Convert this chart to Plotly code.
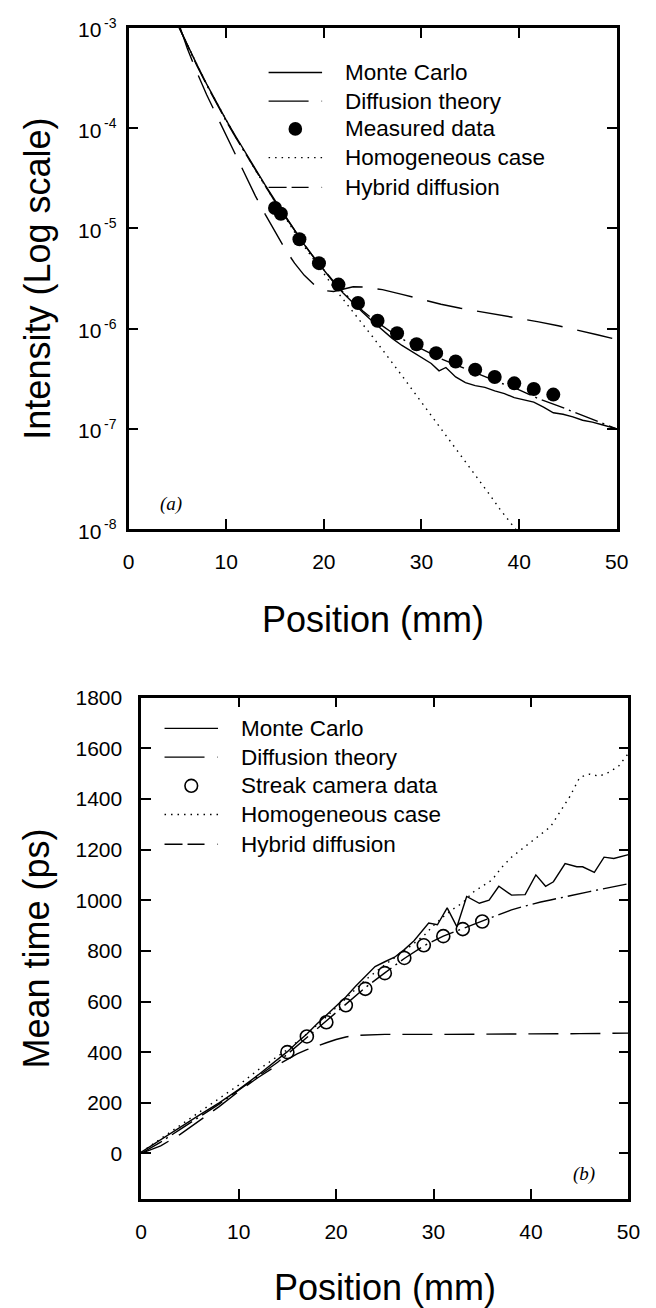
import math
import plotly.graph_objects as go

W, H = 656, 1308


def px(x):
    """Horizontal pixel position -> paper fraction."""
    return x / W


def py(y):
    """Vertical pixel position (measured from the top) -> paper fraction."""
    return 1 - y / H


FONT = "Liberation Sans, Arial, Helvetica, sans-serif"
SERIF = "Liberation Serif, Times New Roman, serif"

# ---------------- panel (a): intensity versus position ----------------
pos_mc_a = [5.2, 6, 7, 8, 9, 10, 11, 12, 13, 14, 15, 16, 17, 18, 19, 20, 21, 22, 23, 24,
            25, 26, 27, 28, 29, 30, 31, 31.8, 32.5, 33.5, 34.5, 35.5, 36.5, 37.5, 38.5,
            39.5, 40.5, 41.5, 42.5, 43.5, 44.5, 45.5, 46.5, 47.5, 48.5, 50]
int_mc_a = [1.0e-3, 6.8e-4, 4.3e-4, 2.75e-4, 1.8e-4, 1.2e-4, 8.2e-5, 5.6e-5, 3.9e-5, 2.7e-5,
            1.9e-5, 1.35e-5, 9.6e-6, 6.9e-6, 5.1e-6, 3.8e-6, 2.9e-6, 2.25e-6, 1.8e-6, 1.45e-6,
            1.18e-6, 9.7e-7, 8.0e-7, 6.8e-7, 5.9e-7, 5.2e-7, 4.5e-7, 3.8e-7, 4.1e-7, 3.3e-7,
            2.9e-7, 2.7e-7, 2.6e-7, 2.4e-7, 2.25e-7, 2.05e-7, 1.95e-7, 1.85e-7, 1.65e-7,
            1.45e-7, 1.4e-7, 1.32e-7, 1.22e-7, 1.17e-7, 1.1e-7, 1.0e-7]

pos_dt_a = [5.2, 6, 7, 8, 9, 10, 11, 12, 13, 14, 15, 16, 17, 18, 19, 20, 21, 22, 23, 24,
            25, 26, 27, 28, 29, 30, 32, 34, 36, 38, 40, 42, 44, 46, 48, 50]
int_dt_a = [1.0e-3, 6.7e-4, 4.2e-4, 2.7e-4, 1.75e-4, 1.17e-4, 8.0e-5, 5.5e-5, 3.8e-5, 2.65e-5,
            1.85e-5, 1.32e-5, 9.5e-6, 6.9e-6, 5.1e-6, 3.85e-6, 2.95e-6, 2.3e-6, 1.85e-6, 1.5e-6,
            1.25e-6, 1.06e-6, 9.1e-7, 7.9e-7, 7.0e-7, 6.3e-7, 5.0e-7, 4.15e-7, 3.45e-7, 2.9e-7,
            2.45e-7, 2.0e-7, 1.7e-7, 1.42e-7, 1.2e-7, 1.0e-7]

pos_meas_a = [15, 15.6, 17.5, 19.5, 21.5, 23.5, 25.5, 27.5, 29.5, 31.5, 33.5, 35.5, 37.5,
              39.5, 41.5, 43.5]
int_meas_a = [1.6e-5, 1.4e-5, 7.8e-6, 4.5e-6, 2.75e-6, 1.8e-6, 1.2e-6, 9.0e-7, 7.0e-7,
              5.7e-7, 4.7e-7, 3.9e-7, 3.3e-7, 2.85e-7, 2.5e-7, 2.2e-7]

pos_hom_a = [5.2, 6, 7, 8, 9, 10, 11, 12, 13, 14, 15, 16, 17, 18, 19, 20, 21, 22, 23, 24,
             25, 26, 27, 28, 29, 30, 31, 32, 33, 34, 35, 36, 37, 38, 39, 40]
int_hom_a = [1.0e-3, 6.8e-4, 4.3e-4, 2.75e-4, 1.8e-4, 1.2e-4, 8.1e-5, 5.5e-5, 3.8e-5, 2.65e-5,
             1.85e-5, 1.3e-5, 9.2e-6, 6.6e-6, 4.8e-6, 3.5e-6, 2.6e-6, 1.95e-6, 1.45e-6, 1.1e-6,
             8.3e-7, 6.2e-7, 4.6e-7, 3.4e-7, 2.5e-7, 1.85e-7, 1.37e-7, 1.02e-7, 7.5e-8, 5.5e-8,
             4.1e-8, 3.0e-8, 2.2e-8, 1.6e-8, 1.2e-8, 9.0e-9]

pos_hyb_a = [5.3, 6, 7, 8, 9, 10, 11, 12, 13, 14, 15, 16, 17, 18, 19, 20, 21, 22, 23, 24,
             26, 28, 30, 32, 34, 36, 38, 40, 42, 44, 46, 48, 50]
int_hyb_a = [1.0e-3, 6.3e-4, 3.6e-4, 2.15e-4, 1.35e-4, 8.5e-5, 5.3e-5, 3.3e-5, 2.1e-5, 1.38e-5,
             9.2e-6, 6.3e-6, 4.5e-6, 3.4e-6, 2.75e-6, 2.4e-6, 2.35e-6, 2.5e-6, 2.62e-6, 2.6e-6,
             2.45e-6, 2.2e-6, 1.95e-6, 1.75e-6, 1.6e-6, 1.48e-6, 1.38e-6, 1.28e-6, 1.17e-6,
             1.07e-6, 9.7e-7, 8.7e-7, 7.8e-7]

# decade ticks of the log axis: mantissa "10" with the exponent set as a superscript
ticks_a = [1e-8, 1e-7, 1e-6, 1e-5, 1e-4, 1e-3]
tick_base_a = ["10", "10", "10", "10", "10", "10"]
tick_exp_a = ["-8", "-7", "-6", "-5", "-4", "-3"]

# ---------------- panel (b): mean time versus position ----------------
pos_mc_b = [0, 2, 4, 6, 8, 10, 12, 14, 15, 16, 17, 18, 19, 20, 21, 22, 23, 24, 25, 26, 27,
            28, 29.5, 30.4, 31.4, 32.4, 33.4, 34.7, 35.7, 36.7, 38.0, 39.4, 40.5, 41.5, 42.3,
            43.5, 44.7, 45.3, 46.5, 47.5, 48.5, 50]
time_mc_b = [5, 55, 105, 152, 200, 252, 310, 370, 402, 438, 472, 510, 545, 580, 618, 660,
             700, 738, 757, 775, 805, 840, 910, 903, 970, 895, 1015, 988, 1000, 1055, 1020,
             1022, 1100, 1055, 1073, 1145, 1132, 1132, 1110, 1170, 1165, 1180]

pos_dt_b = [0, 2, 4, 6, 8, 10, 12, 14, 15, 17, 19, 21, 23, 25, 27, 29, 31, 33, 35, 36, 37,
            38, 39, 40, 41, 42, 43, 44, 45, 46, 47, 48, 49, 50]
time_dt_b = [0, 45, 95, 145, 195, 250, 305, 360, 392, 458, 525, 592, 655, 713, 770, 820, 858,
             888, 917, 933, 948, 962, 973, 984, 993, 1001, 1010, 1018, 1026, 1034, 1042, 1050,
             1057, 1065]

pos_streak_b = [15, 17, 19, 21, 23, 25, 27, 29, 31, 33, 35]
time_streak_b = [400, 462, 518, 585, 650, 712, 772, 822, 858, 886, 916]

pos_hom_b = [0, 2, 4, 6, 8, 10, 12, 14, 15, 17, 19, 21, 23, 25, 27, 29, 30, 31, 32, 33, 34,
             35, 36, 37, 38, 39, 40, 41, 42, 43, 44, 45, 46, 47, 48, 49, 50]
time_hom_b = [5, 58, 112, 165, 215, 270, 330, 385, 410, 472, 540, 612, 685, 745, 800, 860,
              900, 935, 965, 990, 1030, 1055, 1080, 1130, 1170, 1200, 1230, 1260, 1290, 1350,
              1410, 1485, 1498, 1490, 1505, 1530, 1580]

pos_hyb_b = [0, 2, 4, 6, 8, 10, 12, 14, 15, 16, 17, 18, 19, 20, 21, 22, 23, 25, 30, 35, 40,
             45, 50]
time_hyb_b = [0, 30, 75, 130, 185, 245, 300, 350, 372, 393, 410, 425, 437, 450, 460, 466, 468,
              470, 470, 470, 472, 473, 475]

ticks_b = [0, 200, 400, 600, 800, 1000, 1200, 1400, 1600, 1800]
ticks_x = [0, 10, 20, 30, 40, 50]

legend_a = ["Monte Carlo", "Diffusion theory", "Measured data", "Homogeneous case",
            "Hybrid diffusion"]
legend_b = ["Monte Carlo", "Diffusion theory", "Streak camera data", "Homogeneous case",
            "Hybrid diffusion"]

# line styles
LW = 1.4
DASH_DT = "24px,5px,2px,5px"
DASH_HOM = "1.5px,5px"
DASH_HYB_A = "36px,15px"
DASH_HYB_B = "30px,12px"

fig = go.Figure()


def line(x, y, dash, xa, ya):
    fig.add_trace(go.Scatter(x=x, y=y, mode="lines", xaxis=xa, yaxis=ya,
                             line=dict(color="black", width=LW, dash=dash),
                             showlegend=False, hoverinfo="skip"))


# panel (a)
line(pos_hom_a, int_hom_a, DASH_HOM, "x", "y")
line(pos_hyb_a, int_hyb_a, DASH_HYB_A, "x", "y")
line(pos_dt_a, int_dt_a, DASH_DT, "x", "y")
line(pos_mc_a, int_mc_a, "solid", "x", "y")
fig.add_trace(go.Scatter(x=pos_meas_a, y=int_meas_a, mode="markers", xaxis="x", yaxis="y",
                         marker=dict(symbol="circle", size=14, color="black"),
                         showlegend=False, hoverinfo="skip"))

# panel (b)
line(pos_hom_b, time_hom_b, DASH_HOM, "x2", "y2")
line(pos_hyb_b, time_hyb_b, DASH_HYB_B, "x2", "y2")
line(pos_dt_b, time_dt_b, DASH_DT, "x2", "y2")
line(pos_mc_b, time_mc_b, "solid", "x2", "y2")
fig.add_trace(go.Scatter(x=pos_streak_b, y=time_streak_b, mode="markers", xaxis="x2",
                         yaxis="y2",
                         marker=dict(symbol="circle-open", size=13, color="black",
                                     line=dict(width=1.6, color="black")),
                         showlegend=False, hoverinfo="skip"))

axis_common = dict(showline=True, linecolor="black", linewidth=2.5, mirror="ticks",
                   ticks="inside", ticklen=10, tickwidth=2, tickcolor="black",
                   showgrid=False, zeroline=False,
                   tickfont=dict(family=FONT, size=21, color="black"))

fig.update_layout(
    width=W, height=H,
    margin=dict(l=0, r=0, t=0, b=0),
    paper_bgcolor="white", plot_bgcolor="white",
    showlegend=False,
    xaxis=dict(domain=[px(126), px(628)], range=[0, 50], anchor="y", tickvals=ticks_x,
               ticklabelstandoff=12, **axis_common),
    yaxis=dict(domain=[py(522), py(16)], type="log", range=[-8, -3], anchor="x",
               tickvals=ticks_a, showticklabels=False, **axis_common),
    xaxis2=dict(domain=[px(139), px(640)], range=[0, 50], anchor="y2", tickvals=ticks_x,
                ticklabelstandoff=12, **axis_common),
    yaxis2=dict(domain=[py(1198), py(692)], range=[-180, 1800], anchor="x2",
                tickvals=ticks_b, ticklabelstandoff=12, **axis_common),
)

annotations = []
shapes = []


def text(x, y, s, size, angle=0, xanchor="center", family=FONT, style="normal"):
    annotations.append(dict(x=px(x), y=py(y), xref="paper", yref="paper", text=s,
                            showarrow=False, textangle=angle, xanchor=xanchor,
                            yanchor="middle", font=dict(family=family, size=size,
                                                         color="black", style=style)))


# log-axis tick labels, placed on the y scale of panel (a)
for val, base, expo in zip(ticks_a, tick_base_a, tick_exp_a):
    ylog = math.log10(val)
    annotations.append(dict(x=px(100), y=ylog, xref="paper", yref="y", text=base,
                            showarrow=False, xanchor="right", yanchor="middle", yshift=-2,
                            font=dict(family=FONT, size=21, color="black")))
    annotations.append(dict(x=px(99), y=ylog, xref="paper", yref="y", text=expo,
                            showarrow=False, xanchor="left", yanchor="middle", yshift=5,
                            font=dict(family=FONT, size=14, color="black")))

# axis titles
text(377, 613, "Position (mm)", 36)
text(32, 269, "Intensity (Log scale)", 36, angle=-90)
text(390, 1287, "Position (mm)", 36)
text(31, 945, "Mean time (ps)", 36, angle=-90)

# panel labels
text(170, 497, "(a)", 19, family=SERIF, style="italic")
text(594, 1173, "(b)", 19, family=SERIF, style="italic")

# legend keys: one dash pattern per row (None marks the data-point row)
legend_dash = ["solid", "40px,13px,2px,20px", None, "1.5px,5px", "18px,5px,17px,13px,2px,20px"]


def legend(x0, x1, xtext, ys, labels, marker_fill):
    for i, (yy, lab) in enumerate(zip(ys, labels)):
        text(xtext, yy, lab, 22.5, xanchor="left")
        if legend_dash[i] is None:
            cx = (x0 + x1) / 2
            r = 7 if marker_fill else 6.5
            shapes.append(dict(type="circle", xref="paper", yref="paper",
                               x0=px(cx - r), x1=px(cx + r), y0=py(yy + r), y1=py(yy - r),
                               line=dict(color="black", width=0 if marker_fill else 1.6),
                               fillcolor="black" if marker_fill else "rgba(0,0,0,0)"))
        else:
            shapes.append(dict(type="line", xref="paper", yref="paper",
                               x0=px(x0), x1=px(x1), y0=py(yy), y1=py(yy),
                               line=dict(color="black", width=LW, dash=legend_dash[i])))


legend(270, 325, 347, [61, 90, 118, 147, 177], legend_a, True)
legend(163, 218, 240, [723, 752, 781, 810, 840], legend_b, False)

fig.update_layout(annotations=annotations, shapes=shapes)

fig.write_html("out.html")
